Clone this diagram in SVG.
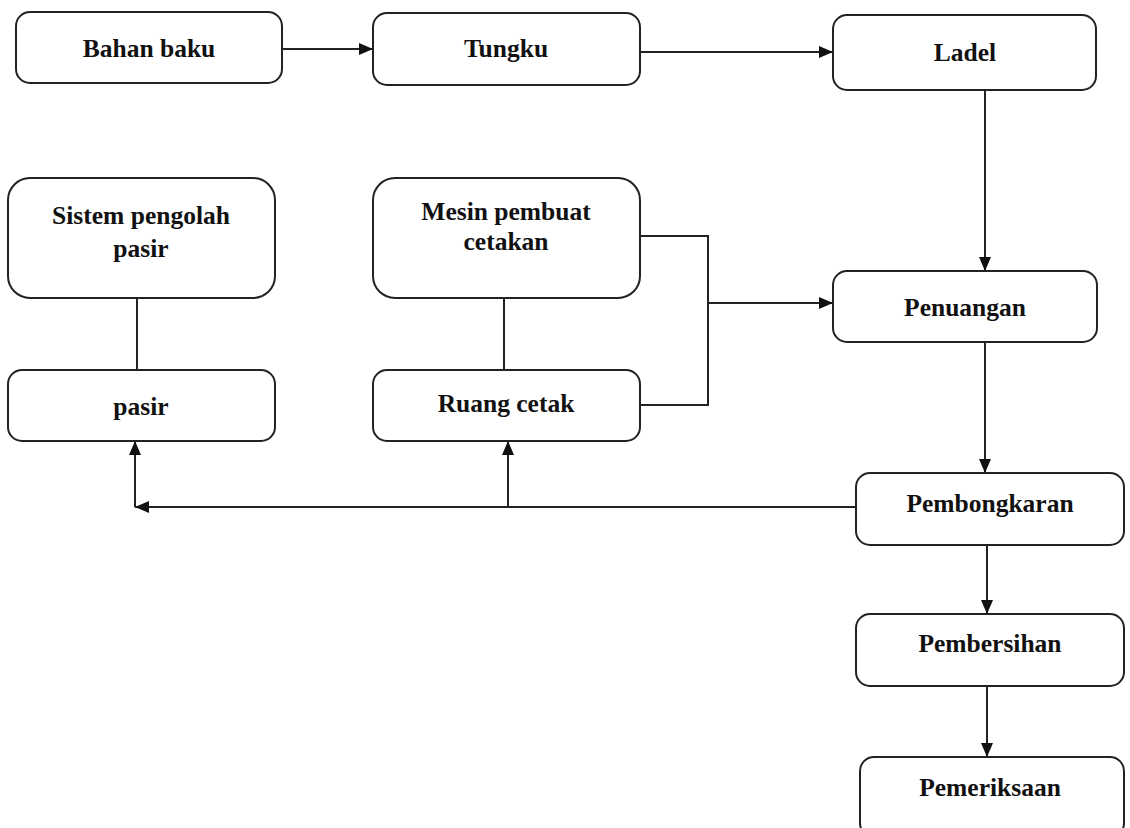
<svg xmlns="http://www.w3.org/2000/svg" width="1130" height="828" viewBox="0 0 1130 828">
<style>
.box{fill:#fff;stroke:#222;stroke-width:2}
.lbl{font-family:"Liberation Serif","Times New Roman",serif;font-weight:bold;font-size:25.5px;fill:#111;text-anchor:middle}
.ln{fill:none;stroke:#222;stroke-width:2}
</style>
<defs>
<marker id="ah" viewBox="0 0 14 12" refX="14" refY="6" markerWidth="14" markerHeight="12" markerUnits="userSpaceOnUse" orient="auto">
<path d="M0,0 L14,6 L0,12 Z" fill="#111"/>
</marker>
</defs>
<rect width="1130" height="828" fill="#fff"/>
<g id="connectors">
<line class="ln" x1="282" y1="49" x2="373" y2="49" marker-end="url(#ah)"/>
<line class="ln" x1="640" y1="52" x2="833" y2="52" marker-end="url(#ah)"/>
<line class="ln" x1="985" y1="90" x2="985" y2="271" marker-end="url(#ah)"/>
<line class="ln" x1="137" y1="298" x2="137" y2="370"/>
<line class="ln" x1="504" y1="298" x2="504" y2="370"/>
<polyline class="ln" points="640,236 708,236 708,405 640,405"/>
<line class="ln" x1="708" y1="303" x2="833" y2="303" marker-end="url(#ah)"/>
<line class="ln" x1="985" y1="342" x2="985" y2="473" marker-end="url(#ah)"/>
<line class="ln" x1="856" y1="507" x2="135" y2="507" marker-end="url(#ah)"/>
<line class="ln" x1="135" y1="507" x2="135" y2="441" marker-end="url(#ah)"/>
<line class="ln" x1="508" y1="507" x2="508" y2="441" marker-end="url(#ah)"/>
<line class="ln" x1="987" y1="545" x2="987" y2="614" marker-end="url(#ah)"/>
<line class="ln" x1="987" y1="686" x2="987" y2="757" marker-end="url(#ah)"/>
</g>
<g id="bahan-baku"><rect class="box" x="16" y="12" width="266" height="71" rx="14"/><text class="lbl" x="149" y="57">Bahan baku</text></g>
<g id="tungku"><rect class="box" x="373" y="13" width="267" height="72" rx="14"/><text class="lbl" x="506" y="57">Tungku</text></g>
<g id="ladel"><rect class="box" x="833" y="15" width="263" height="75" rx="14"/><text class="lbl" x="965" y="61">Ladel</text></g>
<g id="sistem-pengolah-pasir"><rect class="box" x="8" y="178" width="267" height="120" rx="22"/><text class="lbl" x="141" y="224">Sistem pengolah</text><text class="lbl" x="141" y="257">pasir</text></g>
<g id="mesin-pembuat-cetakan"><rect class="box" x="373" y="178" width="267" height="120" rx="22"/><text class="lbl" x="506" y="220">Mesin pembuat</text><text class="lbl" x="506" y="250">cetakan</text></g>
<g id="penuangan"><rect class="box" x="833" y="271" width="264" height="71" rx="14"/><text class="lbl" x="965" y="316">Penuangan</text></g>
<g id="pasir"><rect class="box" x="8" y="370" width="267" height="71" rx="14"/><text class="lbl" x="141" y="415">pasir</text></g>
<g id="ruang-cetak"><rect class="box" x="373" y="370" width="267" height="71" rx="14"/><text class="lbl" x="506" y="412">Ruang  cetak</text></g>
<g id="pembongkaran"><rect class="box" x="856" y="473" width="268" height="72" rx="14"/><text class="lbl" x="990" y="512">Pembongkaran</text></g>
<g id="pembersihan"><rect class="box" x="856" y="614" width="268" height="72" rx="14"/><text class="lbl" x="990" y="652">Pembersihan</text></g>
<g id="pemeriksaan"><rect class="box" x="860" y="757" width="264" height="80" rx="14"/><text class="lbl" x="990" y="796">Pemeriksaan</text></g>
</svg>
